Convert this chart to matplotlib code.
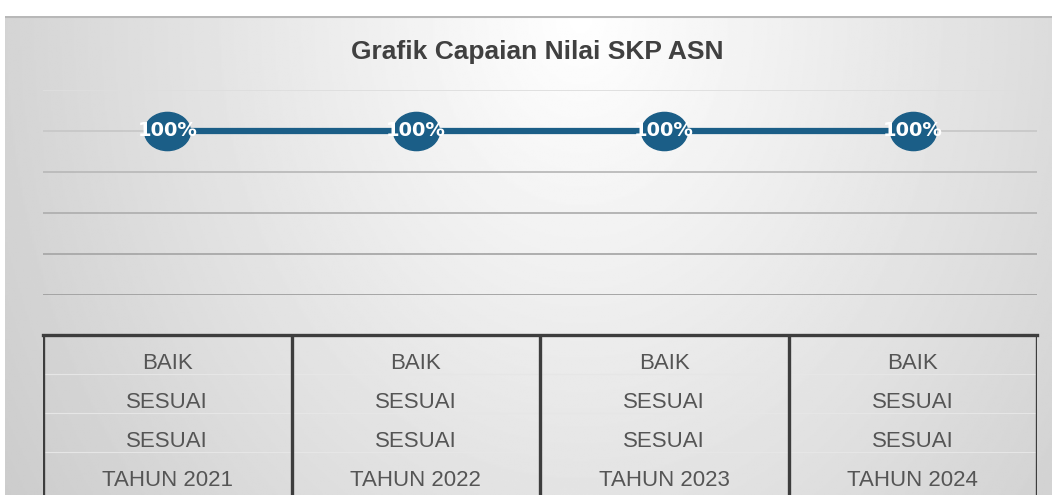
import numpy as np
import matplotlib
matplotlib.use('Agg')
import matplotlib.pyplot as plt
from matplotlib.path import Path

# Data
years = ['TAHUN 2021', 'TAHUN 2022', 'TAHUN 2023', 'TAHUN 2024']
nilai = [1.00, 1.00, 1.00, 1.00]
predikat = ['BAIK', 'BAIK', 'BAIK', 'BAIK']
status_1 = ['SESUAI', 'SESUAI', 'SESUAI', 'SESUAI']
status_2 = ['SESUAI', 'SESUAI', 'SESUAI', 'SESUAI']
grid_vals = [0.96, 0.97, 0.98, 0.99, 1.00, 1.01]

W, H = 1052, 495
fig = plt.figure(figsize=(W / 100, H / 100), dpi=100)
fig.patch.set_facecolor('white')

# background with soft radial gradient
bg = fig.add_axes([5 / W, 0, 1 - 5 / W, 1 - 16 / H])
yy, xx = np.mgrid[0:1:300j, 0:1:600j]
r = np.sqrt(((xx - 0.55) / 0.55) ** 2 + (yy * 0.65) ** 2)
val = 1 - 0.21 * np.clip(r, 0, 1.25) / 1.25
bg.imshow(val, cmap='gray', vmin=0, vmax=1, aspect='auto', extent=[0, 1, 1, 0])
bg.plot([0, 1], [0.002, 0.002], color='#b8b8b8', lw=1.5)
bg.set_xlim(0, 1)
bg.set_ylim(1, 0)
bg.axis('off')

# main line chart
x = np.arange(len(years))
ax = fig.add_axes([43 / W, (H - 295) / H, 994 / W, 205 / H])
ax.patch.set_alpha(0)
ax.set_xlim(-0.5, len(years) - 0.5)
ax.set_ylim(0.96, 1.01)
grid_cols = ['#a0a0a0', '#a8a8a8', '#b0b0b0', '#bababa', '#c8c8c8', '#dedede']
for g, c in zip(grid_vals, grid_cols):
    ax.axhline(g, color=c, lw=1.3, zorder=1)

ell = Path.unit_circle()
ell = Path(ell.vertices * np.array([1.2, 1.0]), ell.codes)
ax.plot(x, nilai, color='#1b5e87', lw=4.5, marker=ell, markersize=33,
        markerfacecolor='#1b5e87', markeredgecolor='#1b5e87', zorder=3)
for xi, v in zip(x, nilai):
    ax.text(xi, v, f'{v:.0%}', color='white', fontsize=14, fontweight='bold',
            ha='center', va='center', family='DejaVu Sans', zorder=4)
for s in ax.spines.values():
    s.set_visible(False)
ax.set_xticks([])
ax.set_yticks([])

# title
fig.text(537 / W, 1 - 52 / H, 'Grafik Capaian Nilai SKP ASN', ha='center', va='center',
         fontsize=19, fontweight='bold', color='#404040', family='Liberation Sans')

# data table under the chart
tx = fig.add_axes([43 / W, 0, 994 / W, (H - 335) / H])
tx.patch.set_alpha(0)
tx.set_xlim(-0.5, len(years) - 0.5)
row_h = 39
tx.set_ylim((H - 335) / row_h, 0)
rows = [predikat, status_1, status_2, years]
for i in range(1, len(rows)):
    tx.axhline(i, color='#e6e6e6', lw=0.8, zorder=1)
for i, row in enumerate(rows):
    for xi, t in zip(x, row):
        tx.text(xi, i + 0.74, t, ha='center', va='center', fontsize=16,
                color='#555555', family='Liberation Sans')
tx.plot([-0.5, len(years) - 0.5], [0, 0], color='#3d3d3d', lw=2.4, clip_on=False)
for b in np.arange(-0.5, len(years), 1.0):
    tx.axvline(b, color='#3d3d3d', lw=2.4)
tx.axis('off')

fig.savefig('out.png', dpi=100)
